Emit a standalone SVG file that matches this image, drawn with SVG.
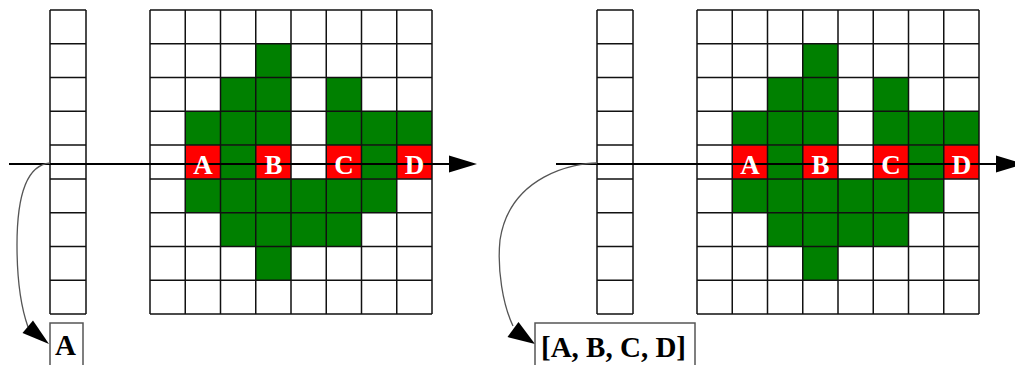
<svg xmlns="http://www.w3.org/2000/svg" width="1015" height="365" viewBox="0 0 1015 365">
<style>
.bg{fill:#fff}
.g{fill:#008000}
.r{fill:#ff0000}
.grid{fill:none;stroke:#111;stroke-width:1.5}
.lbl{font-family:"Liberation Serif","Times New Roman",serif;font-weight:bold;font-size:27px;fill:#fff;text-anchor:middle}
.out{font-family:"Liberation Serif","Times New Roman",serif;font-weight:bold;font-size:29px;fill:#000}
.box{fill:#fff;stroke:#555;stroke-width:1.5}
.ln{fill:none;stroke:#000;stroke-width:1.8}
.cv{fill:none;stroke:#555;stroke-width:1.3}
.ah{fill:#000}
</style>
<rect width="1015" height="365" fill="#fff"/>
<g id="left-column">
<rect class="bg" x="50" y="10" width="36" height="304"/>
<path class="grid" d="M50 10V314M86 10V314M50 10H86M50 43.78H86M50 77.56H86M50 111.33H86M50 145.11H86M50 178.89H86M50 212.67H86M50 246.44H86M50 280.22H86M50 314H86"/>
</g>
<g id="left-grid">
<rect class="bg" x="150" y="10" width="282" height="304"/>
<rect class="g" x="255.75" y="43.78" width="35.25" height="33.78"/>
<rect class="g" x="220.5" y="77.56" width="70.5" height="33.78"/>
<rect class="g" x="326.25" y="77.56" width="35.25" height="33.78"/>
<rect class="g" x="185.25" y="111.33" width="105.75" height="33.78"/>
<rect class="g" x="326.25" y="111.33" width="105.75" height="33.78"/>
<rect class="g" x="220.5" y="145.11" width="35.25" height="33.78"/>
<rect class="g" x="361.5" y="145.11" width="35.25" height="33.78"/>
<rect class="r" x="185.25" y="145.11" width="35.25" height="33.78"/>
<rect class="r" x="255.75" y="145.11" width="35.25" height="33.78"/>
<rect class="r" x="326.25" y="145.11" width="35.25" height="33.78"/>
<rect class="r" x="396.75" y="145.11" width="35.25" height="33.78"/>
<rect class="g" x="185.25" y="178.89" width="211.5" height="33.78"/>
<rect class="g" x="220.5" y="212.67" width="141" height="33.78"/>
<rect class="g" x="255.75" y="246.44" width="35.25" height="33.78"/>
<path class="grid" d="M150 10V314M185.25 10V314M220.5 10V314M255.75 10V314M291 10V314M326.25 10V314M361.5 10V314M396.75 10V314M432 10V314M150 10H432M150 43.78H432M150 77.56H432M150 111.33H432M150 145.11H432M150 178.89H432M150 212.67H432M150 246.44H432M150 280.22H432M150 314H432"/>
</g>
<g id="right-column">
<rect class="bg" x="597" y="10" width="36" height="304"/>
<path class="grid" d="M597 10V314M633 10V314M597 10H633M597 43.78H633M597 77.56H633M597 111.33H633M597 145.11H633M597 178.89H633M597 212.67H633M597 246.44H633M597 280.22H633M597 314H633"/>
</g>
<g id="right-grid" transform="translate(547 0)">
<rect class="bg" x="150" y="10" width="282" height="304"/>
<rect class="g" x="255.75" y="43.78" width="35.25" height="33.78"/>
<rect class="g" x="220.5" y="77.56" width="70.5" height="33.78"/>
<rect class="g" x="326.25" y="77.56" width="35.25" height="33.78"/>
<rect class="g" x="185.25" y="111.33" width="105.75" height="33.78"/>
<rect class="g" x="326.25" y="111.33" width="105.75" height="33.78"/>
<rect class="g" x="220.5" y="145.11" width="35.25" height="33.78"/>
<rect class="g" x="361.5" y="145.11" width="35.25" height="33.78"/>
<rect class="r" x="185.25" y="145.11" width="35.25" height="33.78"/>
<rect class="r" x="255.75" y="145.11" width="35.25" height="33.78"/>
<rect class="r" x="326.25" y="145.11" width="35.25" height="33.78"/>
<rect class="r" x="396.75" y="145.11" width="35.25" height="33.78"/>
<rect class="g" x="185.25" y="178.89" width="211.5" height="33.78"/>
<rect class="g" x="220.5" y="212.67" width="141" height="33.78"/>
<rect class="g" x="255.75" y="246.44" width="35.25" height="33.78"/>
<path class="grid" d="M150 10V314M185.25 10V314M220.5 10V314M255.75 10V314M291 10V314M326.25 10V314M361.5 10V314M396.75 10V314M432 10V314M150 10H432M150 43.78H432M150 77.56H432M150 111.33H432M150 145.11H432M150 178.89H432M150 212.67H432M150 246.44H432M150 280.22H432M150 314H432"/>
</g>
<g id="connectors">
<path class="ln" d="M9 164H450"/>
<polygon class="ah" points="449,155.5 477,164 449,172.5"/>
<path class="ln" d="M556 164H997"/>
<polygon class="ah" points="996,155.5 1024,164 996,172.5"/>
<path class="cv" d="M50 163C25 165 17 200 17 245C17 285 22 310 28 327"/>
<polygon class="ah" points="22.5,333 33,320.5 49,344"/>
<path class="cv" d="M597 163C575 163 510 175 500 240C497 270 503 305 513 326"/>
<polygon class="ah" points="507.5,337 518.5,322 535,344"/>
</g>
<g id="left-labels">
<text class="lbl" x="203" y="174">A</text>
<text class="lbl" x="273.5" y="174">B</text>
<text class="lbl" x="344" y="174">C</text>
<text class="lbl" x="414.5" y="174">D</text>
</g>
<g id="right-labels">
<text class="lbl" x="750" y="174">A</text>
<text class="lbl" x="820.5" y="174">B</text>
<text class="lbl" x="891" y="174">C</text>
<text class="lbl" x="961.5" y="174">D</text>
</g>
<g id="result-left">
<rect class="box" x="50" y="323" width="33" height="50"/>
<text class="out" x="55" y="355">A</text>
</g>
<g id="result-right">
<rect class="box" x="535" y="323" width="160" height="50"/>
<text class="out" x="541" y="357">[A, B, C, D]</text>
</g>
</svg>
